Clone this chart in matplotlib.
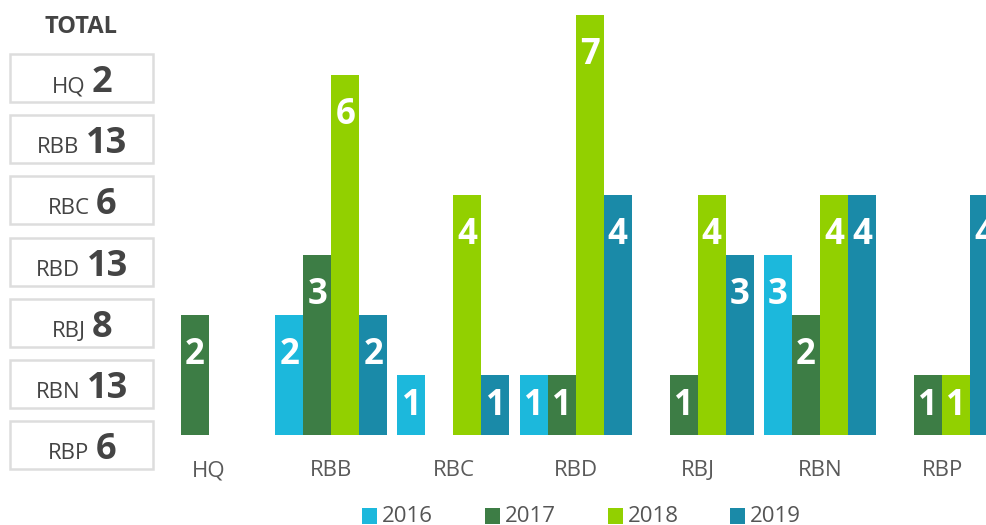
import matplotlib
matplotlib.use("Agg")
import matplotlib.pyplot as plt
from matplotlib.patches import Rectangle

plt.rcParams["font.family"] = ["Open Sans", "DejaVu Sans"]

# data
regions = ["HQ", "RBB", "RBC", "RBD", "RBJ", "RBN", "RBP"]
years = ["2016", "2017", "2018", "2019"]
v2016 = [0, 2, 1, 1, 0, 3, 0]
v2017 = [2, 3, 0, 1, 1, 2, 1]
v2018 = [0, 6, 4, 7, 4, 4, 1]
v2019 = [0, 2, 1, 4, 3, 4, 4]
series = [v2016, v2017, v2018, v2019]
colors = ["#1cb8dc", "#3d7d45", "#92d000", "#1a8aa8"]
totals = [sum(s[i] for s in series) for i in range(len(regions))]

W, H = 987, 525
fig = plt.figure(figsize=(W / 100, H / 100), dpi=100)

# main bar chart, in pixel-derived figure fractions
ax_l, ax_r, ax_base = 160, 987, 435
ax = fig.add_axes([ax_l / W, (H - ax_base) / H, (ax_r - ax_l) / W, ax_base / H])
step = 122.2
c0 = 209
ax.set_xlim((ax_l - c0) / step, (ax_r - c0) / step)
ax.set_ylim(0, ax_base / 60)
width = 28 / step

for k, (vals, col) in enumerate(zip(series, colors)):
    offs = (k - 1.5) * width
    xs = [i + offs for i in range(len(regions))]
    bars = ax.bar(xs, vals, width, color=col, edgecolor="none", clip_on=True)
    for bar, v in zip(bars, vals):
        if v <= 0:
            continue
        dy = -31 if v == 1 else -40
        ax.annotate(str(v), xy=(bar.get_x() + bar.get_width() / 2, v),
                    xytext=(0, dy), textcoords="offset pixels",
                    ha="center", va="center", color="white",
                    fontsize=25, fontweight="bold", clip_on=True)

ax.set_xticks(range(len(regions)))
ax.set_xticklabels(regions, fontsize=16, color="#5a5a5a")
ax.tick_params(axis="x", length=0, pad=18)
ax.set_yticks([])
for sp in ax.spines.values():
    sp.set_visible(False)

# left totals panel and legend in pixel coordinates
side = fig.add_axes([0, 0, 1, 1], zorder=-1)
side.set_xlim(0, W)
side.set_ylim(H, 0)
side.axis("off")

side.text(81, 27, "TOTAL", ha="center", va="center", fontsize=17,
          fontweight="bold", color="#444444")

renderer = fig.canvas.get_renderer()
for i, (name, tot) in enumerate(zip(regions, totals)):
    yc = 78 + 61.2 * i
    side.add_patch(Rectangle((10, yc - 24), 143, 48, facecolor="white",
                             edgecolor="#dddddd", linewidth=1.8))
    t1 = side.text(0, yc + 14, name, ha="left", va="baseline", fontsize=16,
                   color="#444444")
    t2 = side.text(0, yc + 14, str(tot), ha="left", va="baseline", fontsize=26,
                   fontweight="bold", color="#444444")
    w1 = t1.get_window_extent(renderer).width
    w2 = t2.get_window_extent(renderer).width
    gap = 6
    start = 82 - (w1 + gap + w2) / 2
    t1.set_x(start)
    t2.set_x(start + w1 + gap)

leg_x = [362, 485, 608, 730]
for x, yr, col in zip(leg_x, years, colors):
    side.add_patch(Rectangle((x, 508), 15, 16, facecolor=col, edgecolor="none"))
    side.text(x + 20, 516, yr, ha="left", va="center", fontsize=16,
              color="#555555")

fig.savefig("out.png", dpi=100, facecolor="white")
